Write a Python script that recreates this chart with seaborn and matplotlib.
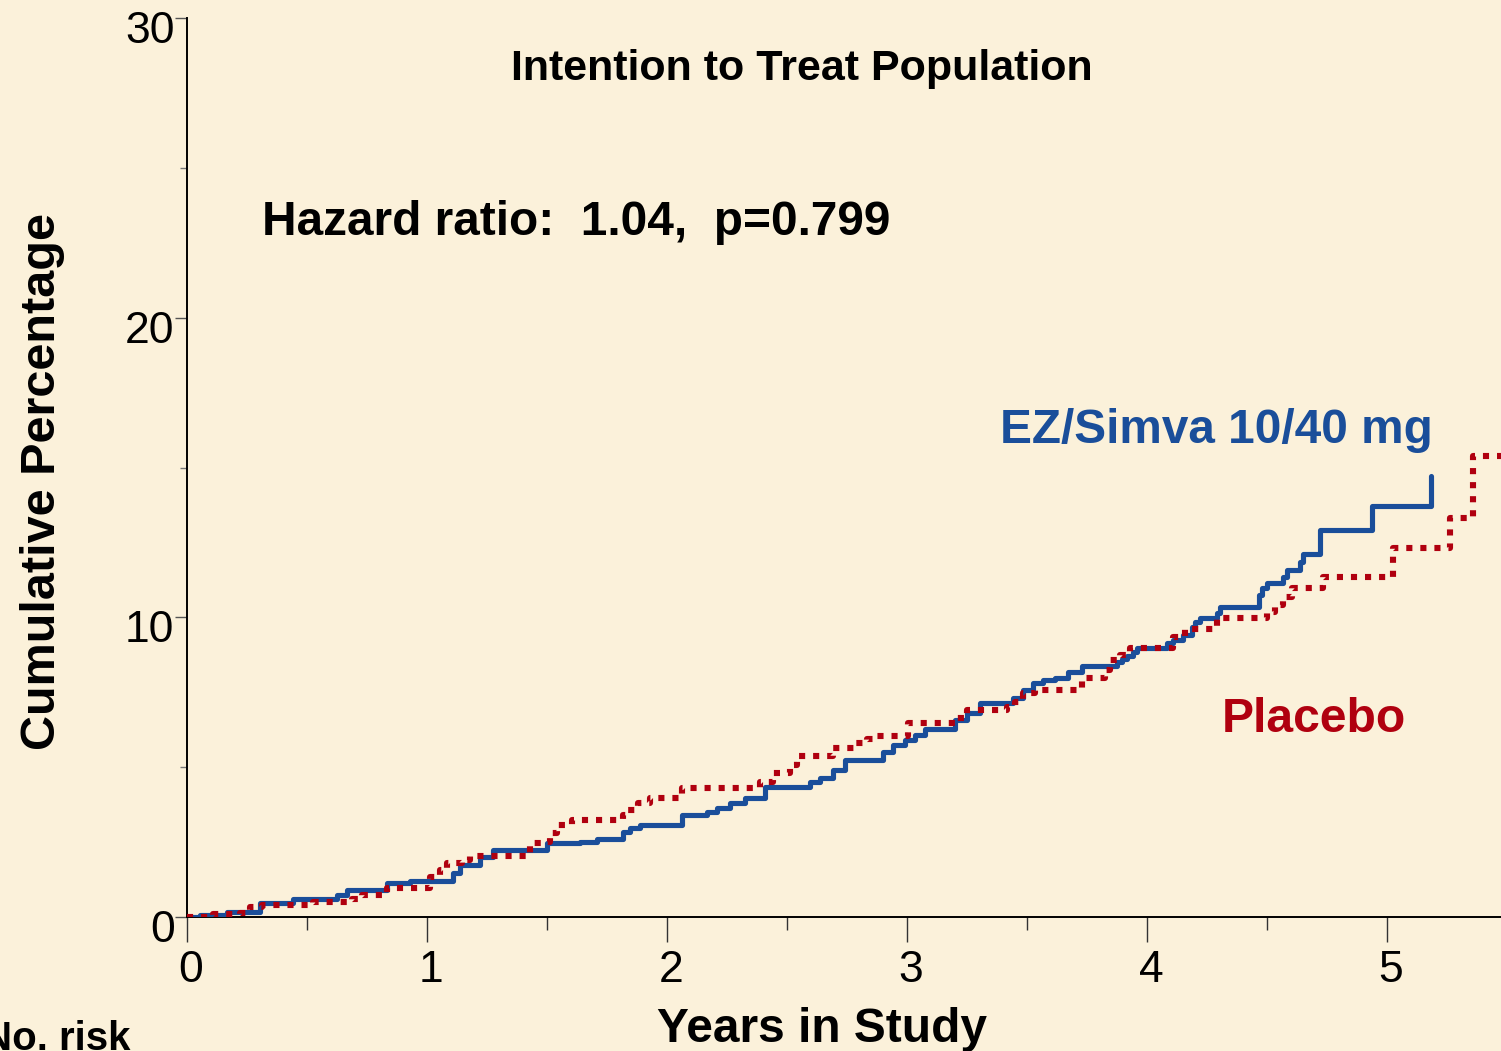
#!/usr/bin/env python3
"""
Cumulative event curves, EZ/Simva vs placebo (ITT population)
"""

import pandas as pd
import matplotlib
matplotlib.use('Agg')
import matplotlib.pyplot as plt
from matplotlib.ticker import MultipleLocator
from matplotlib.transforms import ScaledTranslation
import seaborn as sns

# step curves: (years, cumulative %)
ez_years = [0.0, 0.054, 0.167, 0.304, 0.442, 0.625, 0.667, 0.833, 0.929, 1.108, 1.138,
            1.221, 1.275, 1.5, 1.638, 1.708, 1.817, 1.846, 1.888, 2.063, 2.167, 2.208,
            2.263, 2.325, 2.408, 2.596, 2.638, 2.692, 2.742, 2.9, 2.942, 2.992, 3.033,
            3.075, 3.2, 3.25, 3.304, 3.442, 3.483, 3.525, 3.567, 3.617, 3.671, 3.729,
            3.875, 3.896, 3.917, 3.942, 3.958, 4.083, 4.108, 4.15, 4.188, 4.2, 4.221,
            4.292, 4.304, 4.467, 4.479, 4.5, 4.567, 4.583, 4.638, 4.65, 4.721, 4.938,
            5.183, 5.183]
ez_pct = [0.0, 0.07, 0.17, 0.47, 0.60, 0.73, 0.90, 1.13, 1.20, 1.47, 1.73,
          2.0, 2.23, 2.47, 2.5, 2.6, 2.83, 2.97, 3.07, 3.4, 3.5, 3.63,
          3.8, 3.97, 4.33, 4.5, 4.63, 4.9, 5.23, 5.5, 5.73, 5.9, 6.07,
          6.27, 6.57, 6.8, 7.13, 7.3, 7.57, 7.8, 7.9, 7.97, 8.17, 8.37,
          8.5, 8.6, 8.7, 8.83, 8.97, 9.13, 9.23, 9.4, 9.67, 9.83, 9.97,
          10.13, 10.33, 10.73, 10.97, 11.13, 11.33, 11.57, 11.83, 12.13, 12.9, 13.7,
          13.7, 14.73]

pbo_years = [0.0, 0.108, 0.221, 0.263, 0.313, 0.525, 0.688, 0.729, 0.833, 1.013, 1.054,
             1.083, 1.146, 1.179, 1.429, 1.483, 1.513, 1.542, 1.604, 1.817, 1.838, 1.879,
             1.929, 2.063, 2.388, 2.442, 2.513, 2.542, 2.692, 2.783, 2.833, 2.867, 3.004,
             3.2, 3.25, 3.417, 3.45, 3.483, 3.533, 3.729, 3.825, 3.846, 3.888, 3.929,
             4.108, 4.158, 4.292, 4.5, 4.533, 4.567, 4.604, 4.733, 5.025, 5.263, 5.358,
             5.6]
pbo_pct = [0.0, 0.1, 0.13, 0.33, 0.4, 0.5, 0.6, 0.73, 0.97, 1.33, 1.57,
           1.8, 1.9, 2.03, 2.47, 2.5, 2.8, 3.07, 3.23, 3.4, 3.57, 3.8,
           3.97, 4.3, 4.5, 4.8, 5.07, 5.37, 5.63, 5.8, 5.93, 6.03, 6.47,
           6.63, 6.9, 7.0, 7.17, 7.47, 7.57, 7.97, 8.23, 8.57, 8.73, 8.97,
           9.33, 9.6, 9.97, 10.17, 10.4, 10.67, 10.97, 11.33, 12.3, 13.33, 15.37,
           15.37]

x_ticks = [0, 1, 2, 3, 4, 5]
y_ticks = [0, 10, 20, 30]

BLUE = '#1A4E9A'
RED = '#B0000F'
BG = '#FBF1DA'

W, H = 1501, 1051


def fx(px):
    return px / W


def fy(py):
    return 1 - py / H


def generate_visuals():
    sns.set_style("white")
    plt.rcParams['font.family'] = ['Liberation Sans', 'DejaVu Sans']

    fig = plt.figure(figsize=(W / 100, H / 100), dpi=100, facecolor=BG)
    ax = fig.add_axes([fx(187), fy(917), fx(1501 - 187), (917 - 18) / H])
    ax.set_facecolor(BG)

    ez = pd.DataFrame({'Years': ez_years, 'Pct': ez_pct})
    pbo = pd.DataFrame({'Years': pbo_years, 'Pct': pbo_pct})

    sns.lineplot(data=ez, x='Years', y='Pct', ax=ax, estimator=None, sort=False,
                 drawstyle='steps-post', color=BLUE, lw=3.7, zorder=3)
    sns.lineplot(data=pbo, x='Years', y='Pct', ax=ax, estimator=None, sort=False,
                 drawstyle='steps-post', color=RED, lw=4.4, zorder=4,
                 linestyle=(0, (1.0, 1.3)), dash_capstyle='butt')

    ax.set_xlim(0, (1501 - 187) / 240)
    ax.set_ylim(0, 30)
    ax.set_xticks(x_ticks)
    ax.set_yticks(y_ticks)
    ax.xaxis.set_minor_locator(MultipleLocator(0.5))
    ax.yaxis.set_minor_locator(MultipleLocator(5))
    ax.set_xlabel('')
    ax.set_ylabel('')

    for side in ['top', 'right']:
        ax.spines[side].set_visible(False)
    for side in ['left', 'bottom']:
        ax.spines[side].set_color('black')
        ax.spines[side].set_linewidth(1.4)

    ax.tick_params(axis='x', which='major', direction='out', length=18, width=1.0,
                   color='#333333', labelsize=32, labelcolor='black', pad=6, bottom=True)
    ax.tick_params(axis='x', which='minor', direction='out', length=9, width=1.0,
                   color='#333333', bottom=True)
    ax.tick_params(axis='y', which='major', direction='out', length=9, width=1.0,
                   color='#555555', labelsize=32, labelcolor='black', pad=0, left=True)
    ax.tick_params(axis='y', which='minor', direction='out', length=5, width=1.0,
                   color='#777777', left=True)

    # labels in the picture sit a little lower / right of their ticks
    for lab in ax.get_yticklabels():
        lab.set_transform(lab.get_transform() + ScaledTranslation(0, -0.09, fig.dpi_scale_trans))
    for lab in ax.get_xticklabels():
        lab.set_transform(lab.get_transform() + ScaledTranslation(0.04, 0, fig.dpi_scale_trans))

    fig.text(fx(802), fy(80), 'Intention to Treat Population', ha='center', va='baseline',
             fontsize=31, fontweight='bold', color='black')
    fig.text(fx(262), fy(235), 'Hazard ratio:  1.04,  p=0.799', ha='left', va='baseline',
             fontsize=34.4, fontweight='bold', color='black')
    fig.text(fx(1000), fy(443), 'EZ/Simva 10/40 mg', ha='left', va='baseline',
             fontsize=34.4, fontweight='bold', color=BLUE)
    fig.text(fx(1222), fy(732), 'Placebo', ha='left', va='baseline',
             fontsize=34.6, fontweight='bold', color=RED)
    fig.text(fx(657), fy(1042), 'Years in Study', ha='left', va='baseline',
             fontsize=34.5, fontweight='bold', color='black')
    fig.text(fx(55), fy(482), 'Cumulative Percentage', ha='center', va='baseline',
             rotation=90, rotation_mode='anchor', fontsize=35, fontweight='bold', color='black')
    fig.text(fx(-17), fy(1050), 'No. risk', ha='left', va='baseline',
             fontsize=29, fontweight='bold', color='black')

    fig.savefig('out.png', dpi=100, facecolor=BG)
    plt.close(fig)


if __name__ == "__main__":
    generate_visuals()
